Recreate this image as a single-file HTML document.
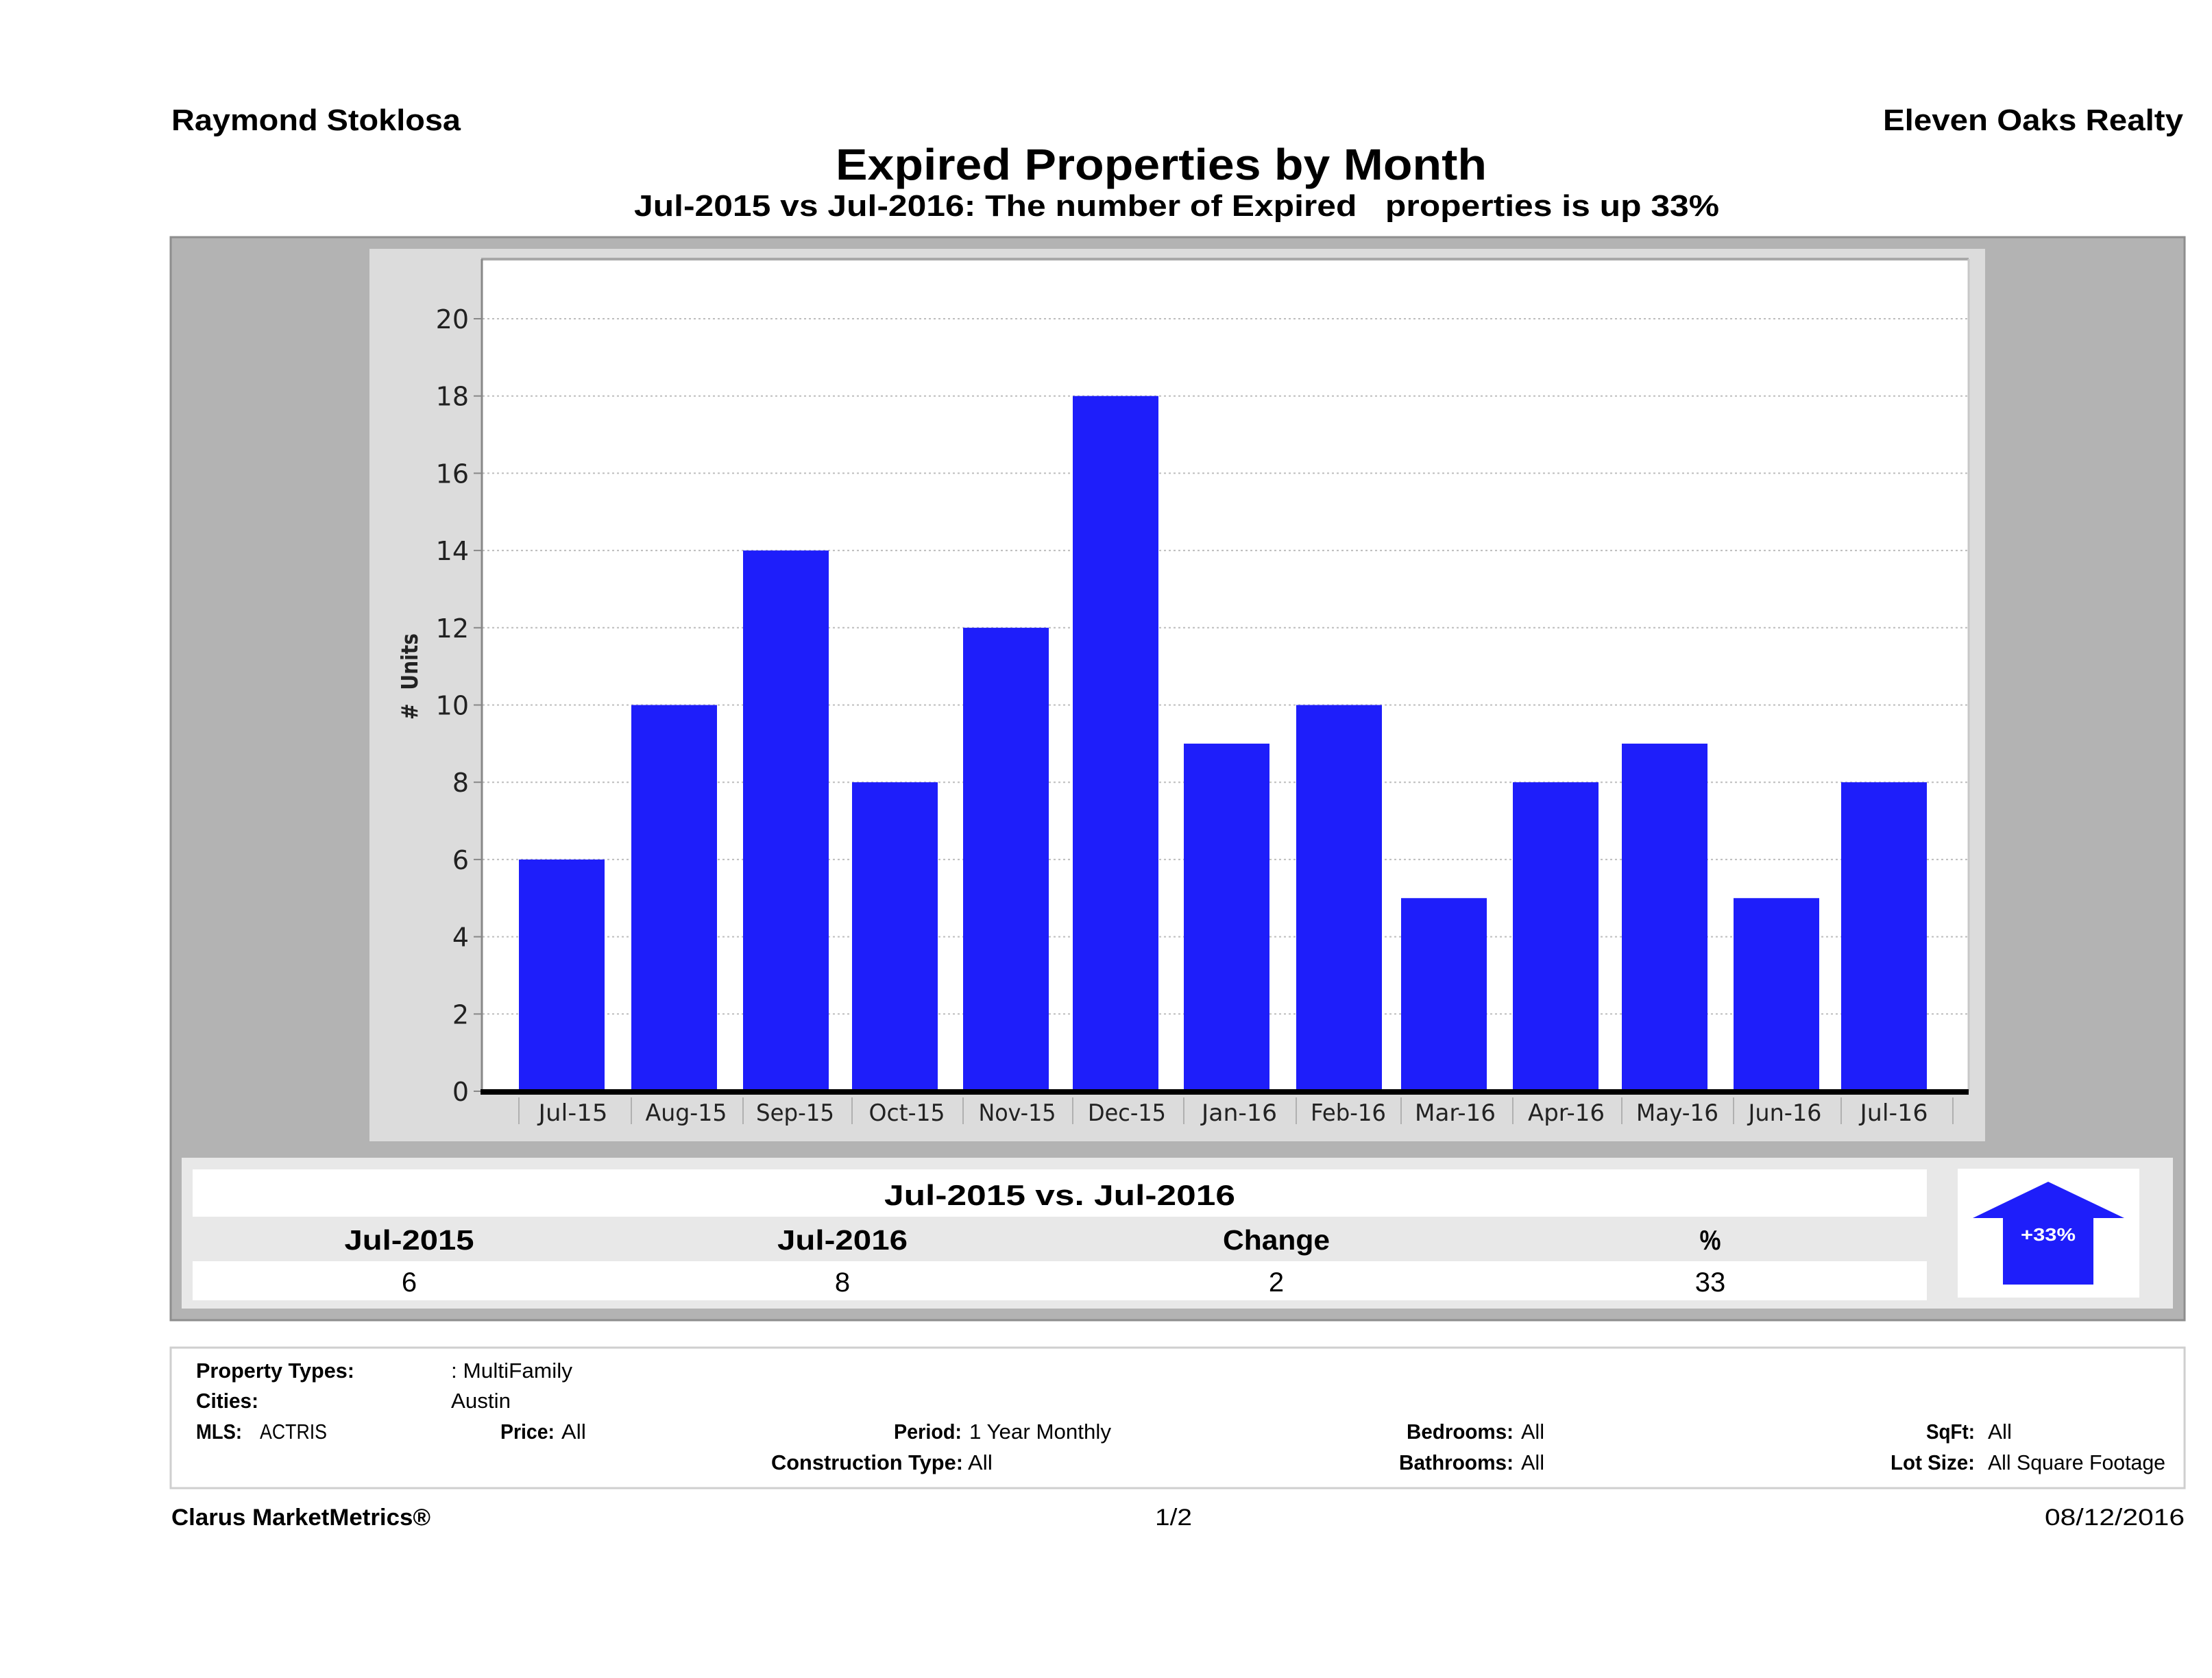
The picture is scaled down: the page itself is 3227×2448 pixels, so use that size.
<!DOCTYPE html>
<html>
<head>
<meta charset="utf-8">
<style>
html,body{margin:0;padding:0;background:#fff;}
svg{display:block;}
text{white-space:pre;}
.b{font-family:"Liberation Sans",sans-serif;font-weight:bold;fill:#000;}
.r{font-family:"Liberation Sans",sans-serif;fill:#000;}
.d{font-family:"DejaVu Sans","Liberation Sans",sans-serif;fill:#222;}
</style>
</head>
<body>
<svg width="3227" height="2448" viewBox="0 0 3227 2448" xmlns="http://www.w3.org/2000/svg">
<rect x="0" y="0" width="3227" height="2448" fill="#fff"/>

<!-- Header -->
<text class="b" x="250" y="190" font-size="44" textLength="422" lengthAdjust="spacingAndGlyphs">Raymond Stoklosa</text>
<text class="b" x="2747" y="190" font-size="44" textLength="438" lengthAdjust="spacingAndGlyphs">Eleven Oaks Realty</text>
<text class="b" x="1219" y="262" font-size="64" textLength="950" lengthAdjust="spacingAndGlyphs">Expired Properties by Month</text>
<text class="b" x="925" y="315" font-size="44" textLength="1583" lengthAdjust="spacingAndGlyphs">Jul-2015 vs Jul-2016: The number of Expired   properties is up 33%</text>

<!-- Outer gray box -->
<rect x="249" y="346" width="2938" height="1580" fill="#b3b3b3" stroke="#8e8e8e" stroke-width="3"/>

<!-- Chart panel -->
<rect x="539" y="363" width="2357" height="1302" fill="#dcdcdc"/>
<!-- Plot area -->
<rect x="702" y="378" width="2170" height="1214" fill="#fff"/>
<line x1="702" y1="378" x2="2872" y2="378" stroke="#a8a8a8" stroke-width="4"/>
<line x1="2872" y1="378" x2="2872" y2="1592" stroke="#c8c8c8" stroke-width="3"/>

<!-- Grid lines -->
<g stroke="#bdbdbd" stroke-width="2" stroke-dasharray="3,4">
<line x1="704" y1="465" x2="2870" y2="465"/>
<line x1="704" y1="577.7" x2="2870" y2="577.7"/>
<line x1="704" y1="690.4" x2="2870" y2="690.4"/>
<line x1="704" y1="803.1" x2="2870" y2="803.1"/>
<line x1="704" y1="915.8" x2="2870" y2="915.8"/>
<line x1="704" y1="1028.5" x2="2870" y2="1028.5"/>
<line x1="704" y1="1141.2" x2="2870" y2="1141.2"/>
<line x1="704" y1="1253.9" x2="2870" y2="1253.9"/>
<line x1="704" y1="1366.6" x2="2870" y2="1366.6"/>
<line x1="704" y1="1479.3" x2="2870" y2="1479.3"/>
</g>

<!-- Y tick marks -->
<g stroke="#888" stroke-width="2">
<line x1="691" y1="465" x2="702" y2="465"/>
<line x1="691" y1="577.7" x2="702" y2="577.7"/>
<line x1="691" y1="690.4" x2="702" y2="690.4"/>
<line x1="691" y1="803.1" x2="702" y2="803.1"/>
<line x1="691" y1="915.8" x2="702" y2="915.8"/>
<line x1="691" y1="1028.5" x2="702" y2="1028.5"/>
<line x1="691" y1="1141.2" x2="702" y2="1141.2"/>
<line x1="691" y1="1253.9" x2="702" y2="1253.9"/>
<line x1="691" y1="1366.6" x2="702" y2="1366.6"/>
<line x1="691" y1="1479.3" x2="702" y2="1479.3"/>
<line x1="691" y1="1592" x2="702" y2="1592"/>
</g>

<!-- Y tick labels -->
<g class="d" font-size="38" text-anchor="end">
<text x="684" y="479">20</text>
<text x="684" y="591.7">18</text>
<text x="684" y="704.4">16</text>
<text x="684" y="817.1">14</text>
<text x="684" y="929.8">12</text>
<text x="684" y="1042.5">10</text>
<text x="684" y="1155.2">8</text>
<text x="684" y="1267.9">6</text>
<text x="684" y="1380.6">4</text>
<text x="684" y="1493.3">2</text>
<text x="684" y="1606">0</text>
</g>

<!-- Y axis title -->
<text class="d" font-weight="bold" font-size="33" fill="#111" text-anchor="middle" transform="translate(609,987) rotate(-90)" textLength="126" lengthAdjust="spacingAndGlyphs">#  Units</text>

<!-- Bars -->
<g fill="#1e1efa">
<rect x="757" y="1253.9" width="125" height="338.1"/>
<rect x="921" y="1028.5" width="125" height="563.5"/>
<rect x="1084" y="803.1" width="125" height="788.9"/>
<rect x="1243" y="1141.2" width="125" height="450.8"/>
<rect x="1405" y="915.8" width="125" height="676.2"/>
<rect x="1565" y="577.7" width="125" height="1014.3"/>
<rect x="1727" y="1084.85" width="125" height="507.15"/>
<rect x="1891" y="1028.5" width="125" height="563.5"/>
<rect x="2044" y="1310.25" width="125" height="281.75"/>
<rect x="2207" y="1141.2" width="125" height="450.8"/>
<rect x="2366" y="1084.85" width="125" height="507.15"/>
<rect x="2529" y="1310.25" width="125" height="281.75"/>
<rect x="2686" y="1141.2" width="125" height="450.8"/>
</g>

<!-- Left axis line -->
<line x1="703" y1="378" x2="703" y2="1592" stroke="#888" stroke-width="3"/>
<!-- Zero axis thick line -->
<rect x="701" y="1589" width="2171" height="8" fill="#000"/>

<!-- Category separators -->
<g stroke="#b0b0b0" stroke-width="2">
<line x1="757" y1="1601" x2="757" y2="1640"/>
<line x1="921" y1="1601" x2="921" y2="1640"/>
<line x1="1084" y1="1601" x2="1084" y2="1640"/>
<line x1="1243" y1="1601" x2="1243" y2="1640"/>
<line x1="1405" y1="1601" x2="1405" y2="1640"/>
<line x1="1565" y1="1601" x2="1565" y2="1640"/>
<line x1="1727" y1="1601" x2="1727" y2="1640"/>
<line x1="1891" y1="1601" x2="1891" y2="1640"/>
<line x1="2044" y1="1601" x2="2044" y2="1640"/>
<line x1="2207" y1="1601" x2="2207" y2="1640"/>
<line x1="2366" y1="1601" x2="2366" y2="1640"/>
<line x1="2529" y1="1601" x2="2529" y2="1640"/>
<line x1="2686" y1="1601" x2="2686" y2="1640"/>
<line x1="2849" y1="1601" x2="2849" y2="1640"/>
</g>

<!-- X labels -->
<g class="d" font-size="34" text-anchor="middle">
<text x="836" y="1635" textLength="101" lengthAdjust="spacingAndGlyphs">Jul-15</text>
<text x="1001" y="1635" textLength="119" lengthAdjust="spacingAndGlyphs">Aug-15</text>
<text x="1160" y="1635" textLength="114" lengthAdjust="spacingAndGlyphs">Sep-15</text>
<text x="1323" y="1635" textLength="111" lengthAdjust="spacingAndGlyphs">Oct-15</text>
<text x="1484" y="1635" textLength="113" lengthAdjust="spacingAndGlyphs">Nov-15</text>
<text x="1644" y="1635" textLength="114" lengthAdjust="spacingAndGlyphs">Dec-15</text>
<text x="1808" y="1635" textLength="110" lengthAdjust="spacingAndGlyphs">Jan-16</text>
<text x="1967" y="1635" textLength="110" lengthAdjust="spacingAndGlyphs">Feb-16</text>
<text x="2123" y="1635" textLength="118" lengthAdjust="spacingAndGlyphs">Mar-16</text>
<text x="2285" y="1635" textLength="112" lengthAdjust="spacingAndGlyphs">Apr-16</text>
<text x="2447" y="1635" textLength="120" lengthAdjust="spacingAndGlyphs">May-16</text>
<text x="2604" y="1635" textLength="107" lengthAdjust="spacingAndGlyphs">Jun-16</text>
<text x="2763" y="1635" textLength="99" lengthAdjust="spacingAndGlyphs">Jul-16</text>
</g>

<!-- Table panel -->
<rect x="265" y="1689" width="2905" height="220" fill="#e8e8e8"/>
<rect x="281" y="1706" width="2530" height="69" fill="#fff"/>
<rect x="281" y="1840" width="2530" height="57" fill="#fff"/>
<text class="b" x="1546" y="1758" font-size="42" text-anchor="middle" textLength="512" lengthAdjust="spacingAndGlyphs">Jul-2015 vs. Jul-2016</text>
<g class="b" font-size="41" text-anchor="middle">
<text x="597" y="1823" textLength="189" lengthAdjust="spacingAndGlyphs">Jul-2015</text>
<text x="1229" y="1823" textLength="190" lengthAdjust="spacingAndGlyphs">Jul-2016</text>
<text x="1862" y="1823" textLength="156" lengthAdjust="spacingAndGlyphs">Change</text>
<text x="2495" y="1823" textLength="31" lengthAdjust="spacingAndGlyphs">%</text>
</g>
<g class="r" font-size="40" text-anchor="middle">
<text x="597" y="1884">6</text>
<text x="1229" y="1884">8</text>
<text x="1862" y="1884">2</text>
<text x="2495" y="1884">33</text>
</g>

<!-- Arrow box -->
<rect x="2856" y="1705" width="265" height="188" fill="#fff"/>
<polygon points="2988,1724 3099,1777 3054,1777 3054,1874 2922,1874 2922,1777 2878,1777" fill="#1e1efa"/>
<text x="2988" y="1810" font-size="26" font-weight="bold" font-family="Liberation Sans, sans-serif" fill="#fff" text-anchor="middle" textLength="80" lengthAdjust="spacingAndGlyphs">+33%</text>

<!-- Footer info box -->
<rect x="249" y="1966" width="2938" height="205" fill="#fff" stroke="#cfcfcf" stroke-width="3"/>
<g font-size="31">
<text class="b" x="286" y="2010" textLength="231" lengthAdjust="spacingAndGlyphs">Property Types:</text>
<text class="r" x="658" y="2010" textLength="177" lengthAdjust="spacingAndGlyphs">: MultiFamily</text>
<text class="b" x="286" y="2054" textLength="91" lengthAdjust="spacingAndGlyphs">Cities:</text>
<text class="r" x="658" y="2054" textLength="87" lengthAdjust="spacingAndGlyphs">Austin</text>
<text class="b" x="286" y="2099" textLength="67" lengthAdjust="spacingAndGlyphs">MLS:</text>
<text class="r" x="379" y="2099" textLength="98" lengthAdjust="spacingAndGlyphs">ACTRIS</text>
<text class="b" x="730" y="2099" textLength="79" lengthAdjust="spacingAndGlyphs">Price:</text>
<text class="r" x="819" y="2099" textLength="36" lengthAdjust="spacingAndGlyphs">All</text>
<text class="b" x="1304" y="2099" textLength="99" lengthAdjust="spacingAndGlyphs">Period:</text>
<text class="r" x="1414" y="2099" textLength="207" lengthAdjust="spacingAndGlyphs">1 Year Monthly</text>
<text class="b" x="1125" y="2144" textLength="280" lengthAdjust="spacingAndGlyphs">Construction Type:</text>
<text class="r" x="1412" y="2144" textLength="36" lengthAdjust="spacingAndGlyphs">All</text>
<text class="b" x="2052" y="2099" textLength="156" lengthAdjust="spacingAndGlyphs">Bedrooms:</text>
<text class="r" x="2219" y="2099" textLength="34" lengthAdjust="spacingAndGlyphs">All</text>
<text class="b" x="2041" y="2144" textLength="167" lengthAdjust="spacingAndGlyphs">Bathrooms:</text>
<text class="r" x="2219" y="2144" textLength="34" lengthAdjust="spacingAndGlyphs">All</text>
<text class="b" x="2810" y="2099" textLength="71" lengthAdjust="spacingAndGlyphs">SqFt:</text>
<text class="r" x="2900" y="2099" textLength="35" lengthAdjust="spacingAndGlyphs">All</text>
<text class="b" x="2758" y="2144" textLength="123" lengthAdjust="spacingAndGlyphs">Lot Size:</text>
<text class="r" x="2900" y="2144" textLength="259" lengthAdjust="spacingAndGlyphs">All Square Footage</text>
</g>

<!-- Bottom footer -->
<text class="b" x="250" y="2225" font-size="34" textLength="378" lengthAdjust="spacingAndGlyphs">Clarus MarketMetrics®</text>
<text class="r" x="1685" y="2225" font-size="34" textLength="54" lengthAdjust="spacingAndGlyphs">1/2</text>
<text class="r" x="2983" y="2225" font-size="34" textLength="204" lengthAdjust="spacingAndGlyphs">08/12/2016</text>
</svg>
</body>
</html>
